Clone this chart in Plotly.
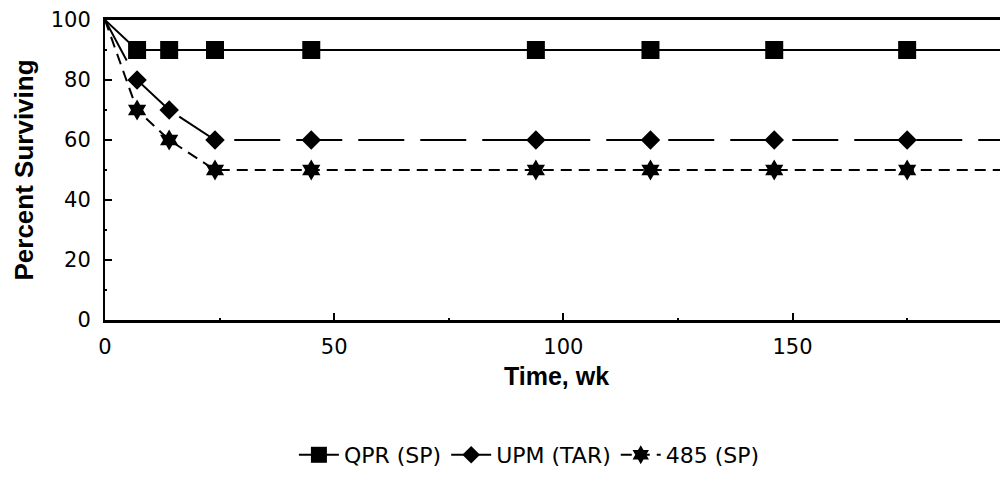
import plotly.graph_objects as go

weeks = [0, 7, 14, 24, 45, 94, 119, 146, 175, 198]
qpr_sp = [100, 90, 90, 90, 90, 90, 90, 90, 90, 90]
upm_tar = [100, 80, 70, 60, 60, 60, 60, 60, 60, 60]
s485_sp = [100, 70, 60, 50, 50, 50, 50, 50, 50, 50]

series_names = ["QPR (SP)", "UPM (TAR)", "485 (SP)"]
x_ticks = [0, 50, 100, 150]
y_ticks = [0, 20, 40, 60, 80, 100]

tick_font = dict(family="DejaVu Sans", size=21, color="black")
title_font = dict(family="Liberation Sans", size=25, color="black", weight="bold")

def marker_sizes(n, size):
    # no marker at the starting point (time 0)
    return [0] + [size] * (n - 1)

def mk(symbol, size):
    return dict(symbol=symbol, size=marker_sizes(len(weeks), size), color="#000000",
                opacity=1, line=dict(width=0, color="#000000"))

fig = go.Figure()
fig.add_trace(go.Scatter(
    x=weeks, y=qpr_sp, name=series_names[0], mode="lines+markers",
    line=dict(color="black", width=2, dash="solid"),
    marker=mk("square", 18),
))
fig.add_trace(go.Scatter(
    x=weeks, y=upm_tar, name=series_names[1], mode="lines+markers",
    line=dict(color="black", width=2, dash="46px,16px"),
    marker=mk("diamond", 15),
))
fig.add_trace(go.Scatter(
    x=weeks, y=s485_sp, name=series_names[2], mode="lines+markers",
    line=dict(color="black", width=2, dash="11px,7px"),
    marker=mk("hexagram", 16),
))

fig.update_layout(
    width=1000, height=483,
    margin=dict(l=97, r=0, t=12, b=171),
    paper_bgcolor="white", plot_bgcolor="white",
    showlegend=True,
    legend=dict(
        orientation="h", x=0.47, xanchor="center", y=-0.45, yanchor="middle",
        font=dict(family="DejaVu Sans", size=22, color="black"),
        itemwidth=40,
    ),
    xaxis=dict(
        range=[0, 197], tickvals=x_ticks, ticks="inside", ticklen=7, tickwidth=2,
        tickcolor="black", showline=True, linecolor="black", linewidth=2.5,
        mirror=True, showgrid=False, zeroline=False, tickfont=tick_font,
        ticklabelstandoff=6,
        minor=dict(dtick=25, tick0=0, ticks="inside", ticklen=2, tickwidth=2, tickcolor="black", showgrid=False),
        title=dict(text="Time, wk", font=title_font, standoff=10),
    ),
    yaxis=dict(
        range=[0, 100], tickvals=y_ticks, ticks="inside", ticklen=7, tickwidth=2,
        tickcolor="black", showline=True, linecolor="black", linewidth=2,
        showgrid=False, zeroline=False, tickfont=tick_font,
        ticklabelstandoff=8,
        minor=dict(dtick=10, tick0=0, ticks="inside", ticklen=2, tickwidth=2, tickcolor="black", showgrid=False),
        title=dict(text="Percent Surviving", font=dict(family="Liberation Sans", size=26, color="black", weight="bold"), standoff=10),
    ),
)

fig.write_html("out.html")
